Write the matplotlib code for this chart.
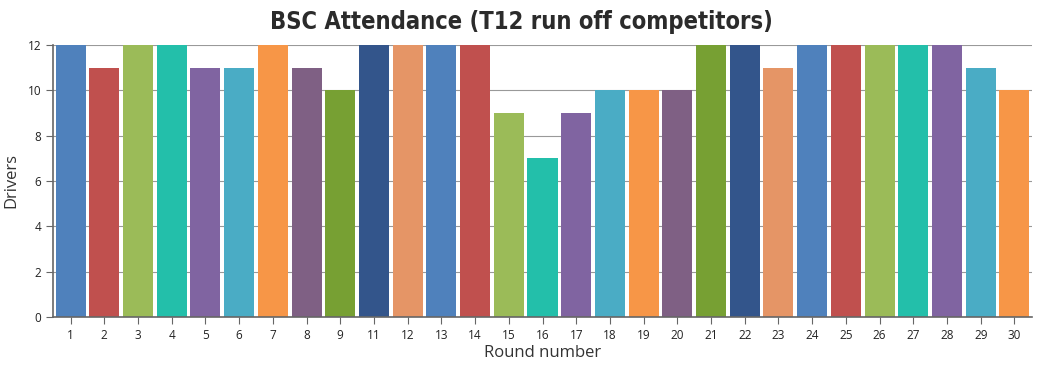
import matplotlib.pyplot as plt
from matplotlib.ticker import MultipleLocator


ROUNDS = ['1', '2', '3', '4', '5', '6', '7', '8', '9', '11', '12', '13', '14', '15',
          '16', '17', '18', '19', '20', '21', '22', '23', '24', '25', '26', '27',
          '28', '29', '30']
DRIVERS = [12, 11, 12, 12, 11, 11, 12, 11, 10, 12, 12, 12, 12, 9,
           7, 9, 10, 10, 10, 12, 12, 11, 12, 12, 12, 12,
           12, 11, 10]
PALETTE = ['#4F81BC', '#C0504E', '#9BBB58', '#23BFAA', '#8064A1', '#4AACC5',
           '#F79647', '#7F6084', '#77A033', '#33558B', '#E59566']

W, H = 1043, 370


def main():
    fig = plt.figure(figsize=(W / 100, H / 100), dpi=100)
    ax = fig.add_axes([53 / W, 53 / H, (1032 - 53) / W, (317 - 45) / H])

    xs = range(len(ROUNDS))
    colors = [PALETTE[i % len(PALETTE)] for i in xs]
    ax.bar(xs, DRIVERS, width=0.89, color=colors, zorder=2)

    ax.set_xlim(-0.52, len(ROUNDS) - 0.48)
    ax.set_ylim(0, 12)
    ax.yaxis.set_major_locator(MultipleLocator(2))
    ax.set_xticks(list(xs))
    ax.set_xticklabels(ROUNDS)
    ax.grid(axis='y', color='#999999', linewidth=0.8, zorder=1)

    for side in ['top', 'right']:
        ax.spines[side].set_visible(False)
    for side in ['left', 'bottom']:
        ax.spines[side].set_color('#666666')
        ax.spines[side].set_linewidth(1.2)
    ax.tick_params(axis='both', colors='#666666', labelcolor='#222222',
                   labelsize=8.5, length=5)
    for lab in ax.get_xticklabels() + ax.get_yticklabels():
        lab.set_family(['Open Sans', 'DejaVu Sans'])

    ax.set_xlabel('Round number', fontsize=12, color='#333333',
                  family=['Open Sans', 'DejaVu Sans'], labelpad=2)
    ax.set_ylabel('Drivers', fontsize=12, color='#333333',
                  family=['Open Sans', 'DejaVu Sans'], labelpad=6)
    fig.text(0.5, 1 - 22 / H, 'BSC Attendance (T12 run off competitors)',
             ha='center', va='center', fontsize=17, fontweight='bold',
             fontstretch='condensed', color='#2b2b2b',
             family=['DejaVu Sans'])

    fig.savefig('out.png', dpi=100)


if __name__ == '__main__':
    main()
